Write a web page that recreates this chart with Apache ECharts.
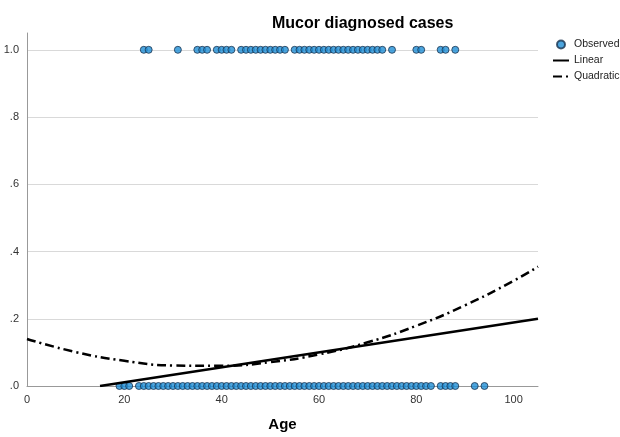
<!DOCTYPE html>
<html><head><meta charset="utf-8">
<script src="https://cdn.jsdelivr.net/npm/echarts@6/dist/echarts.min.js"></script>
<style>html,body{margin:0;padding:0;background:#fff}#c{width:620px;height:437px}</style>
</head><body><div id="c"></div>
<script>
// Observed: ages of diagnosed cases (value 1) and non-cases (value 0)
const agesCase = [24,25,31,35,36,37,39,40,41,42,44,45,46,47,48,49,50,51,52,53,
  55,56,57,58,59,60,61,62,63,64,65,66,67,68,69,70,71,72,73,75,80,81,85,86,88];
const agesNonCase = [19,20,21,23,24,25,26,27,28,29,30,31,32,33,34,35,36,37,38,39,40,
  41,42,43,44,45,46,47,48,49,50,51,52,53,54,55,56,57,58,59,60,61,62,63,64,65,66,67,68,69,70,
  71,72,73,74,75,76,77,78,79,80,81,82,83,85,86,87,88,92,94];
// Fitted curves
const linearAges = [15, 105];
const linearVals = [0, 0.2];
const quadAges = [0,10,20,30,40,50,60,70,80,90,100,105];
const quadVals = [0.140,0.101,0.075,0.061,0.060,0.071,0.094,0.130,0.179,0.240,0.313,0.355];
const xTicks = ['0','20','40','60','80','100'];
const yTicks = {0:'.0',0.2:'.2',0.4:'.4',0.6:'.6',0.8:'.8',1:'1.0'};

const font = 'Liberation Sans, Arial, sans-serif';
const chart = echarts.init(document.getElementById('c'));
chart.setOption({
  animation: false,
  title: {text: 'Mucor diagnosed cases', left: 267, top: 11,
    textStyle: {fontFamily: font, fontSize: 16, fontWeight: 'bold', color: '#000'}},
  legend: {orient: 'vertical', left: 547, top: 34, itemWidth: 16, itemHeight: 8, itemGap: 5,
    textStyle: {fontFamily: font, fontSize: 10.5, color: '#222'},
    data: [{name: 'Observed', icon: 'circle'},
      {name: 'Linear', itemStyle: {opacity: 0}},
      {name: 'Quadratic', itemStyle: {opacity: 0}}]},
  grid: {left: 27, right: 82, top: 33, bottom: 45, containLabel: false},
  xAxis: {type: 'value', min: 0, max: 105, interval: 20,
    name: 'Age', nameLocation: 'middle', nameGap: 31,
    nameTextStyle: {fontFamily: font, fontSize: 15, fontWeight: 'bold', color: '#000'},
    axisLine: {lineStyle: {color: '#999'}}, axisTick: {show: false}, splitLine: {show: false},
    axisLabel: {showMaxLabel: false, fontFamily: font, fontSize: 11, color: '#333', margin: 8,
      formatter: v => xTicks[v / 20] || ''}},
  yAxis: {type: 'value', min: 0, max: 1.05, interval: 0.2,
    axisLine: {show: true, lineStyle: {color: '#999'}}, axisTick: {show: false},
    splitLine: {show: true, lineStyle: {color: ['rgba(0,0,0,0)','#d9d9d9','#d9d9d9','#d9d9d9','#d9d9d9','#d9d9d9','rgba(0,0,0,0)']}},
    axisLabel: {showMaxLabel: false, fontFamily: font, fontSize: 11, color: '#333', margin: 8,
      formatter: v => yTicks[Math.round(v * 10) / 10] || ''}},
  series: [
    {name: 'Observed', type: 'scatter', symbol: 'circle', symbolSize: 7, clip: false,
      itemStyle: {color: '#1f8ed6', borderColor: '#1b3550', borderWidth: 1},
      data: agesCase.map(a => [a, 1]).concat(agesNonCase.map(a => [a, 0]))},
    {name: 'Linear', type: 'line', symbol: 'none', z: 3,
      itemStyle: {color: '#000'},
      lineStyle: {color: '#000', width: 2.5},
      data: linearAges.map((a, i) => [a, linearVals[i]])},
    {name: 'Quadratic', type: 'line', symbol: 'none', smooth: true, z: 3,
      itemStyle: {color: '#000'},
      lineStyle: {color: '#000', width: 2.5, type: [9, 4, 2, 4]},
      data: quadAges.map((a, i) => [a, quadVals[i]])}
  ]
});
</script></body></html>
